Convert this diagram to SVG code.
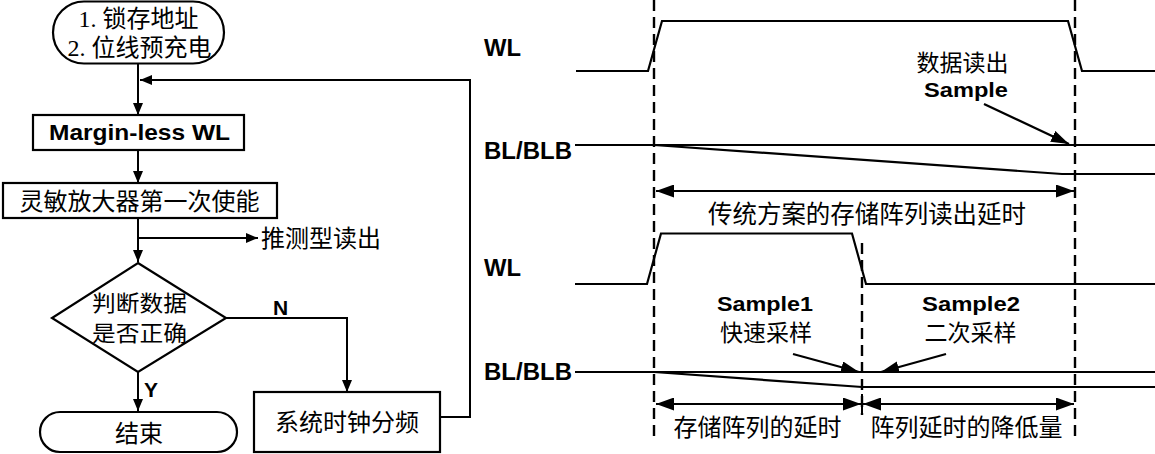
<svg xmlns="http://www.w3.org/2000/svg" width="1155" height="454" viewBox="0 0 1155 454">
<style>
  .ln{fill:none;stroke:#000;stroke-width:2}
  .sig{fill:none;stroke:#000;stroke-width:2.2}
  .dash{fill:none;stroke:#000;stroke-width:2.4;stroke-dasharray:11 6}
  .box{fill:#fff;stroke:#000;stroke-width:2.2}
  .zh{font-family:"Noto Sans CJK SC","Liberation Sans",sans-serif;font-size:24px;fill:#000}
  .zs{font-family:"Liberation Serif","Noto Sans CJK SC",serif;font-size:24px;fill:#000}
  .en{font-family:"Liberation Sans",Arial,sans-serif;font-weight:bold;font-size:21px;fill:#000}
  .mid{text-anchor:middle}
  .sm{font-size:23px}
</style>
<defs>
  <marker id="ah" markerUnits="userSpaceOnUse" markerWidth="12" markerHeight="10" refX="12" refY="5" orient="auto">
    <path d="M0,0 L12,5 L0,10 z" fill="#000"/>
  </marker>
  <marker id="ahL" markerUnits="userSpaceOnUse" markerWidth="18" markerHeight="13" refX="18" refY="6.5" orient="auto-start-reverse">
    <path d="M0,0 L18,6.5 L0,13 z" fill="#000"/>
  </marker>
  <marker id="ahS" markerUnits="userSpaceOnUse" markerWidth="18" markerHeight="12" refX="18" refY="6" orient="auto">
    <path d="M0,0 L18,6 L0,12 z" fill="#000"/>
  </marker>
</defs>

<!-- connectors -->
<g id="connectors">
  <line class="ln" x1="138" y1="64" x2="138" y2="115" marker-end="url(#ah)"/>
  <line class="ln" x1="138" y1="150" x2="138" y2="183" marker-end="url(#ah)"/>
  <line class="ln" x1="138" y1="218" x2="138" y2="262" marker-end="url(#ah)"/>
  <line class="ln" x1="138" y1="238" x2="258" y2="238" marker-end="url(#ah)"/>
  <polyline class="ln" points="226,318 347,318 347,392" marker-end="url(#ah)"/>
  <line class="ln" x1="138" y1="372" x2="138" y2="411" marker-end="url(#ah)"/>
  <polyline class="ln" points="440,417 470,417 470,80 140,80" marker-end="url(#ah)"/>
</g>

<!-- flowchart nodes -->
<g id="start">
  <rect class="box" x="53" y="1.5" width="171" height="62" rx="31" ry="31"/>
  <text class="zs mid" x="138.5" y="27">1. 锁存地址</text>
  <text class="zs mid" x="139.5" y="56">2. 位线预充电</text>
</g>
<g id="margin">
  <rect class="box" x="33" y="115" width="211" height="35"/>
  <text class="en mid" x="139.5" y="140" style="font-size:22px" textLength="181" lengthAdjust="spacingAndGlyphs">Margin-less WL</text>
</g>
<g id="sa">
  <rect class="box" x="3" y="183" width="274" height="35"/>
  <text class="zh mid" x="139.5" y="210">灵敏放大器第一次使能</text>
</g>
<g id="spec">
  <text class="zh" x="261" y="247">推测型读出</text>
</g>
<g id="decision">
  <polygon class="box" points="138,263 226,318 138,372 52,318"/>
  <text class="zh mid" x="139.5" y="310.5" style="font-size:22px" textLength="95" lengthAdjust="spacingAndGlyphs">判断数据</text>
  <text class="zh mid" x="139.5" y="340.5" style="font-size:22px" textLength="95" lengthAdjust="spacingAndGlyphs">是否正确</text>
</g>
<g id="labelN"><text class="en" x="273" y="315">N</text></g>
<g id="labelY"><text class="en" x="144" y="397">Y</text></g>
<g id="clock">
  <rect class="box" x="254" y="392" width="186" height="60"/>
  <text class="zh mid" x="347" y="430.5">系统时钟分频</text>
</g>
<g id="end">
  <rect class="box" x="40" y="412" width="197" height="40" rx="20" ry="20"/>
  <text class="zh mid" x="139" y="442">结束</text>
</g>

<!-- timing diagram -->
<g id="timing">
  <line class="dash" x1="654" y1="0" x2="654" y2="440"/>
  <line class="dash" x1="1075" y1="0" x2="1075" y2="440"/>
  <line class="dash" x1="862" y1="243" x2="862" y2="415"/>

  <text class="en" x="484" y="56" style="font-size:23px" textLength="37" lengthAdjust="spacingAndGlyphs">WL</text>
  <text class="en" x="484" y="159" style="font-size:23px" textLength="88" lengthAdjust="spacingAndGlyphs">BL/BLB</text>
  <polyline class="sig" points="576,71 648,71 662,21 1068,21 1082,71 1155,71"/>
  <line class="sig" x1="575" y1="145" x2="1155" y2="145"/>
  <polyline class="sig" points="654,145 1062,174 1155,174"/>
  <line class="sig" x1="984" y1="104" x2="1069" y2="144" marker-end="url(#ahS)"/>
  <text class="zh mid" x="962.5" y="71" style="font-size:23px">数据读出</text>
  <text class="en mid" x="966" y="97" textLength="84" lengthAdjust="spacingAndGlyphs">Sample</text>
  <line class="ln" x1="656" y1="191" x2="1074" y2="191" marker-start="url(#ahL)" marker-end="url(#ahL)"/>
  <text class="zh mid" x="867" y="223" style="font-size:25px" textLength="318" lengthAdjust="spacingAndGlyphs">传统方案的存储阵列读出延时</text>

  <text class="en" x="484" y="276" style="font-size:23px" textLength="37" lengthAdjust="spacingAndGlyphs">WL</text>
  <text class="en" x="484" y="380" style="font-size:23px" textLength="88" lengthAdjust="spacingAndGlyphs">BL/BLB</text>
  <polyline class="sig" points="575,284 647,284 661,233.5 852,233.5 866,284 1155,284"/>
  <line class="sig" x1="575" y1="372" x2="1155" y2="372"/>
  <polyline class="sig" points="654,372 862,387 1155,387"/>
  <line class="sig" x1="793" y1="354" x2="859" y2="372" marker-end="url(#ahS)"/>
  <line class="sig" x1="946" y1="354" x2="881" y2="372" marker-end="url(#ahS)"/>
  <text class="en mid" x="765" y="311" textLength="96" lengthAdjust="spacingAndGlyphs">Sample1</text>
  <text class="zh sm mid" x="766" y="341">快速采样</text>
  <text class="en mid" x="971" y="311" textLength="98" lengthAdjust="spacingAndGlyphs">Sample2</text>
  <text class="zh sm mid" x="970.5" y="341">二次采样</text>
  <line class="ln" x1="862" y1="394" x2="862" y2="415"/>
  <line class="ln" x1="656" y1="404" x2="861" y2="404" marker-start="url(#ahL)" marker-end="url(#ahL)"/>
  <line class="ln" x1="863" y1="404" x2="1074" y2="404" marker-start="url(#ahL)" marker-end="url(#ahL)"/>
  <text class="zh mid" x="757.5" y="436">存储阵列的延时</text>
  <text class="zh mid" x="966.5" y="436">阵列延时的降低量</text>
</g>
</svg>
